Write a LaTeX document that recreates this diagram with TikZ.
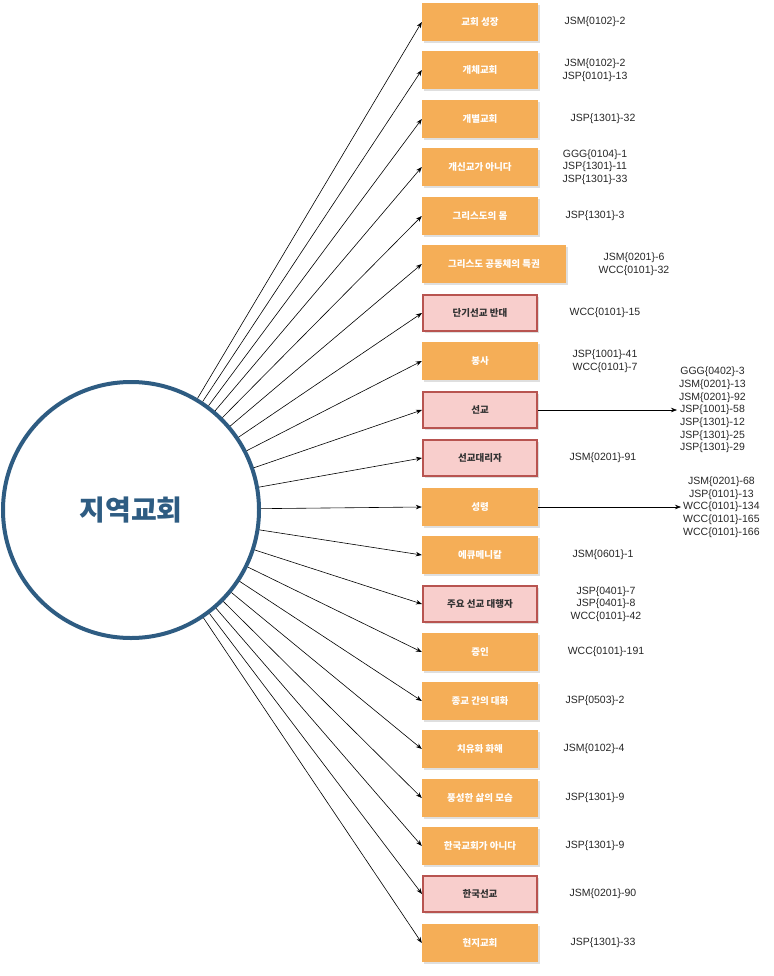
\documentclass[tikz,border=0pt]{standalone}
\usepackage{fontspec}
\setmainfont{Liberation Sans}
\newfontfamily\krfont{Noto Sans CJK KR}
\usetikzlibrary{shadows,arrows.meta}
\definecolor{boxorange}{HTML}{F5AE57}
\definecolor{boxpink}{HTML}{F8CECC}
\definecolor{boxred}{HTML}{B85450}
\definecolor{circblue}{HTML}{2E5C82}

\begin{document}
\begin{tikzpicture}[x=1pt,y=-1pt,
	obox/.style={fill=boxorange, minimum width=116pt, minimum height=38pt, inner sep=2pt,
		font=\krfont\bfseries\fontsize{9.5}{11}\selectfont, text=white,
		drop shadow={shadow xshift=1.5pt, shadow yshift=-2pt, opacity=0.25}},
	pbox/.style={obox, fill=boxpink, draw=boxred, line width=2pt, text=black!80,
		minimum width=114pt, minimum height=36pt},
	ref/.style={font=\fontsize{10.5}{12.7}\selectfont, align=center, text=black!85, inner sep=2pt},
	link/.style={-{Stealth[length=6pt,width=4.5pt]}, line width=0.6pt}]
	\useasboundingbox (0,0) rectangle (773,976);

	%CIRCLE
	\node[circle, draw=circblue, line width=4pt, minimum size=256pt, inner sep=0pt,
		font=\krfont\bfseries\fontsize{28}{32}\selectfont, text=circblue] (LC) at (131,510) {지역교회};

	%BOXES
	\node[obox] (B1) at (480,22) {교회 성장};
	\node[obox] (B2) at (480,70) {개체교회};
	\node[obox] (B3) at (480,119) {개별교회};
	\node[obox] (B4) at (480,167) {개신교가 아니다};
	\node[obox] (B5) at (480,216) {그리스도의 몸};
	\node[obox, minimum width=144pt] (B6) at (494,264) {그리스도 공동체의 특권};
	\node[pbox] (B7) at (480,313) {단기선교 반대};
	\node[obox] (B8) at (480,361) {봉사};
	\node[pbox] (B9) at (480,410) {선교};
	\node[pbox] (B10) at (480,458) {선교대리자};
	\node[obox] (B11) at (480,507) {성령};
	\node[obox] (B12) at (480,555) {에큐메니칼};
	\node[pbox] (B13) at (480,604) {주요 선교 대행자};
	\node[obox] (B14) at (480,652) {증인};
	\node[obox] (B15) at (480,701) {종교 간의 대화};
	\node[obox] (B16) at (480,749) {치유화 화해};
	\node[obox] (B17) at (480,798) {풍성한 삶의 모습};
	\node[obox] (B18) at (480,846) {한국교회가 아니다};
	\node[pbox] (B19) at (480,894) {한국선교};
	\node[obox] (B20) at (480,943) {현지교회};

	%REFERENCES
	\node[ref] (R1) at (595,22) {JSM\{0102\}-2};
	\node[ref] (R2) at (595,70) {JSM\{0102\}-2\\JSP\{0101\}-13};
	\node[ref] (R3) at (603,119) {JSP\{1301\}-32};
	\node[ref] (R4) at (595,167) {GGG\{0104\}-1\\JSP\{1301\}-11\\JSP\{1301\}-33};
	\node[ref] (R5) at (595,216) {JSP\{1301\}-3};
	\node[ref] (R6) at (634,264) {JSM\{0201\}-6\\WCC\{0101\}-32};
	\node[ref] (R7) at (605,313) {WCC\{0101\}-15};
	\node[ref] (R8) at (605,361) {JSP\{1001\}-41\\WCC\{0101\}-7};
	\node[ref, anchor=west] (R9) at (677,410) {GGG\{0402\}-3\\JSM\{0201\}-13\\JSM\{0201\}-92\\JSP\{1001\}-58\\JSP\{1301\}-12\\JSP\{1301\}-25\\JSP\{1301\}-29};
	\node[ref] (R10) at (603,458) {JSM\{0201\}-91};
	\node[ref, anchor=west] (R11) at (681,507) {JSM\{0201\}-68\\JSP\{0101\}-13\\WCC\{0101\}-134\\WCC\{0101\}-165\\WCC\{0101\}-166};
	\node[ref] (R12) at (603,555) {JSM\{0601\}-1};
	\node[ref] (R13) at (606,604) {JSP\{0401\}-7\\JSP\{0401\}-8\\WCC\{0101\}-42};
	\node[ref] (R14) at (606,652) {WCC\{0101\}-191};
	\node[ref] (R15) at (595,701) {JSP\{0503\}-2};
	\node[ref] (R16) at (594,749) {JSM\{0102\}-4};
	\node[ref] (R17) at (595,798) {JSP\{1301\}-9};
	\node[ref] (R18) at (595,846) {JSP\{1301\}-9};
	\node[ref] (R19) at (603,894) {JSM\{0201\}-90};
	\node[ref] (R20) at (603,943) {JSP\{1301\}-33};

	%ARROWS
	\draw[link] (LC) -- (B1.west);  \draw[link] (LC) -- (B2.west);
	\draw[link] (LC) -- (B3.west);  \draw[link] (LC) -- (B4.west);
	\draw[link] (LC) -- (B5.west);  \draw[link] (LC) -- (B6.west);
	\draw[link] (LC) -- (B7.west);  \draw[link] (LC) -- (B8.west);
	\draw[link] (LC) -- (B9.west);  \draw[link] (LC) -- (B10.west);
	\draw[link] (LC) -- (B11.west); \draw[link] (LC) -- (B12.west);
	\draw[link] (LC) -- (B13.west); \draw[link] (LC) -- (B14.west);
	\draw[link] (LC) -- (B15.west); \draw[link] (LC) -- (B16.west);
	\draw[link] (LC) -- (B17.west); \draw[link] (LC) -- (B18.west);
	\draw[link] (LC) -- (B19.west); \draw[link] (LC) -- (B20.west);
	\draw[link] (B9.east) -- (R9.west);
	\draw[link] (B11.east) -- (R11.west);
\end{tikzpicture}
\end{document}
